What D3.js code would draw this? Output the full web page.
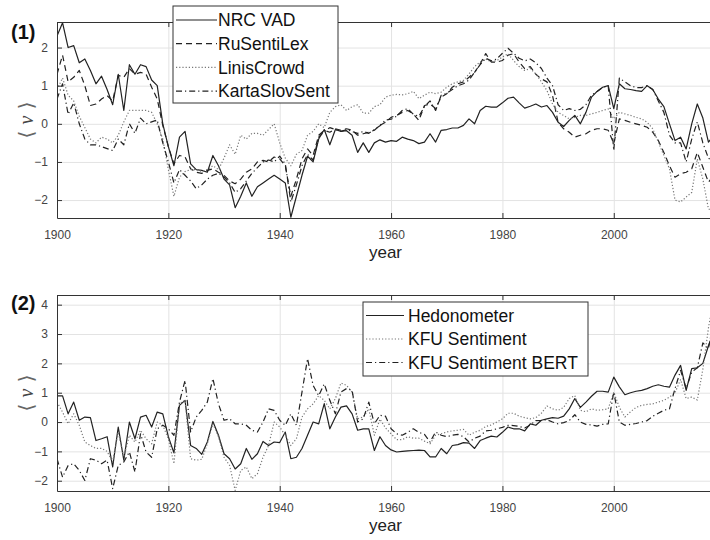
<!DOCTYPE html>
<html>
<head>
<meta charset="utf-8">
<script src="https://cdn.jsdelivr.net/npm/d3@7"></script>
<style>
  body { margin: 0; background: #fff; }
  svg { font-family: "Liberation Sans", Arial, sans-serif; }
</style>
</head>
<body>
<svg id="drawing_region"></svg>
<script>
// years 1900..2018
const years = d3.range(1900, 2019);

const nrcVad = [
  2.3, 2.65, 2.0, 2.05, 1.6, 1.7, 1.4, 1.05, 1.25, 0.9,
  0.5, 1.3, 0.35, 1.55, 1.3, 1.55, 1.5, 1.15, 1.0, 0.0,
  -0.6, -1.1, -0.35, -0.2, -1.05, -1.2, -1.22, -1.27, -0.83, -1.1,
  -1.45, -1.6, -2.2, -1.9, -1.55, -1.9, -1.65, -1.55, -1.45, -1.35,
  -1.45, -1.55, -2.45, -1.9, -1.35, -0.85, -1.0, -0.4, -0.15, -0.55,
  -0.15, -0.2, -0.18, -0.3, -0.75, -0.5, -0.75, -0.5, -0.42, -0.48,
  -0.44, -0.46, -0.35, -0.4, -0.44, -0.52, -0.48, -0.26, -0.48, -0.17,
  -0.15, -0.11, -0.11, -0.04, 0.13, 0.0, 0.35, 0.46, 0.44, 0.44,
  0.55, 0.67, 0.7, 0.55, 0.41, 0.46, 0.52, 0.44, 0.48, 0.3,
  0.04, -0.07, 0.09, 0.22, 0.0, 0.3, 0.7, 0.85, 0.96, 1.0,
  0.4, 1.05, 0.92, 0.9, 0.87, 0.85, 1.0, 0.9, 0.65, 0.45,
  0.0, -0.44, -0.35, -0.66, 0.0, 0.52, 0.15, -0.48, -0.3
];
const ruSentiLex = [
  1.3, 1.8, 1.1, 1.22, 1.4, 1.0, 0.48, 0.52, 0.65, 0.74,
  0.6, 1.27, 1.22, 1.45, 1.3, 1.35, 1.3, 0.96, 0.65, -0.04,
  -0.6, -1.05, -0.83, -0.87, -1.18, -1.27, -1.3, -1.22, -1.18, -1.27,
  -1.35, -1.5, -1.57, -1.45, -1.27, -1.18, -1.0, -0.96, -1.0, -0.87,
  -0.92, -1.1, -1.9, -1.45, -0.92, -0.66, -0.83, -0.3, -0.17, -0.22,
  -0.13, -0.17, -0.13, -0.17, -0.3, -0.26, -0.22, -0.17, -0.04, 0.04,
  0.17, 0.22, 0.3, 0.35, 0.26, 0.09, 0.48, 0.52, 0.4, 0.7,
  0.79, 0.96, 1.05, 1.1, 1.22, 1.35, 1.57, 1.84, 1.62, 1.62,
  1.66, 1.8, 1.84, 1.62, 1.45, 1.5, 1.3, 1.18, 1.1, 0.74,
  0.04, -0.13, -0.22, -0.35, -0.3, -0.26, -0.17, -0.13, -0.13, -0.17,
  -0.52, 0.13, 0.09, 0.04, 0.0, -0.04, -0.09, -0.22, -0.44, -0.75,
  -1.1, -1.4, -1.31, -1.27, -1.18, -0.75, -1.14, -1.53, -1.35
];
const linisCrowd = [
  0.9, 1.2, 0.75, 0.6, 0.2, -0.1, -0.4, -0.5, -0.35, -0.4,
  -0.5, -0.3, 0.05, 0.35, 0.35, 0.35, 0.35, 0.3, 0.0, -0.4,
  -1.2, -1.9, -1.4, -1.25, -1.2, -1.2, -1.25, -1.2, -1.1, -1.2,
  -0.9, -0.55, -0.8, -0.3, -0.4, -0.25, -0.25, -0.3, -0.15, 0.0,
  -0.5, -0.9, -1.1, -0.8, -0.7, -0.3, -0.2, 0.0, -0.1, 0.3,
  0.45, 0.5, 0.35, 0.45, 0.5, 0.28, 0.28, 0.45, 0.5, 0.7,
  0.75, 0.77, 0.76, 0.79, 0.85, 0.66, 0.75, 0.83, 0.79, 0.83,
  0.96, 1.05, 1.1, 1.14, 1.31, 1.5, 1.62, 1.7, 1.62, 1.66,
  1.75, 1.84, 1.66, 1.5, 1.4, 1.45, 1.31, 1.1, 0.87, 0.52,
  0.3, 0.22, 0.13, 0.17, 0.22, 0.22, 0.26, 0.3, 0.35, 0.39,
  0.13, 0.3, 0.26, 0.22, 0.17, 0.13, 0.04, -0.13, -0.48, -0.83,
  -1.18, -2.0, -2.05, -1.92, -1.8, -0.92, -1.45, -2.23, -2.3
];
const kartaSlovSent = [
  0.65, 1.05, 0.25, 0.55, 0.0, -0.4, -0.55, -0.55, -0.6, -0.65,
  -0.7, -0.4, -0.55, 0.0, -0.25, 0.15, 0.0, 0.05, 0.1, -0.5,
  -1.0, -1.55, -1.2, -1.35, -1.5, -1.7, -1.6, -1.45, -1.35, -1.3,
  -1.4, -1.55, -1.8, -1.7, -1.5, -1.3, -1.15, -1.0, -0.95, -1.0,
  -0.85, -1.05, -2.05, -1.6, -1.1, -0.8, -0.95, -0.35, -0.2, -0.1,
  -0.15, -0.2, -0.15, -0.2, -0.25, -0.2, -0.25, -0.15, -0.05, 0.1,
  0.12, 0.2, 0.35, 0.4, 0.25, 0.2, 0.45, 0.6, 0.35, 0.75,
  0.8, 0.9, 1.0, 1.05, 1.15, 1.35, 1.55, 1.72, 1.65, 1.7,
  1.85, 1.98, 1.85, 1.72, 1.65, 1.7, 1.6, 1.45, 1.2, 1.0,
  0.5, 0.35, 0.4, 0.35, 0.38, 0.5, 0.75, 0.85, 0.95, 1.0,
  -0.7, 1.2, 1.1, 1.0, 0.95, 0.95, 1.0, 0.9, 0.6, 0.3,
  -0.3, -0.5, -0.5, -1.0, -0.4, 0.05, -0.5, -0.9, -1.0
];

const hedonometer = [
  0.89, 0.89, 0.28, 0.68, 0.06, 0.17, 0.15, -0.63, -0.57, -0.5,
  -1.53, -0.17, -1.3, 0.0, -0.57, 0.17, 0.23, -0.17, 0.34, 0.28,
  -0.5, -1.05, 0.57, 0.74, -0.8, -0.9, -1.1, -0.68, 0.02, -0.45,
  -1.08, -1.25, -1.6, -1.42, -0.9, -1.27, -1.08, -0.66, -0.8, -0.68,
  -0.7, -0.34, -1.25, -1.2, -0.9, -0.45, 0.0, -0.06, 0.63, -0.23,
  0.17, 0.51, 0.55, 0.28, -0.28, -0.23, -0.23, -0.97, -0.5, -0.8,
  -0.95, -1.02, -1.0, -0.98, -0.97, -0.96, -0.97, -1.19, -1.19, -0.9,
  -1.08, -0.8, -0.77, -0.7, -0.72, -0.9, -0.63, -0.55, -0.48, -0.51,
  -0.35, -0.17, -0.23, -0.23, -0.3, -0.06, -0.11, 0.06, 0.11, 0.15,
  0.13, 0.2, 0.45, 0.8, 0.5, 0.68, 0.88, 1.05, 1.05, 1.02,
  1.53, 1.2, 0.93, 1.0, 1.05, 1.08, 1.14, 1.22, 1.27, 1.22,
  1.19, 1.6, 1.93, 1.08, 1.82, 1.85, 2.0, 2.6, 3.1
];
const kfuSentiment = [
  0.68, 0.34, -0.06, 0.28, -0.11, -0.68, -0.8, -0.9, -0.9, -1.0,
  -1.36, -0.34, -1.2, -0.45, -0.68, -0.28, -0.57, -0.74, 0.0, -0.11,
  -0.57, -1.42, 0.62, 0.74, -1.25, -1.3, -1.27, -0.74, -0.06, -0.5,
  -1.2, -1.48, -2.33, -1.65, -1.53, -1.93, -1.76, -1.2, -0.8, 0.0,
  -0.17, -0.45, -0.8, -0.57, 0.17, 0.45, 0.62, 0.9, 0.74, 0.45,
  0.8, 1.33, 1.25, 1.02, 0.11, 0.17, 0.45, -0.45, 0.1, -0.2,
  -0.4, -0.6, -0.6, -0.5, -0.55, -0.55, -0.65, -0.74, -0.45, -0.4,
  -0.34, -0.3, -0.28, -0.25, -0.45, -0.35, -0.28, -0.15, -0.1, 0.0,
  0.11, 0.3, 0.3, 0.2, 0.15, 0.11, 0.15, 0.3, 0.55, 0.45,
  0.4, 0.5, 0.8, 0.9, 0.4, 0.35, 0.45, 0.4, 0.42, 0.45,
  1.02, 0.5, 0.17, 0.35, 0.5, 0.57, 0.6, 0.62, 0.68, 0.74,
  0.85, 1.0, 1.45, 0.8, 0.85, 0.75, 1.8, 3.2, 4.3
];
const kfuSentimentBert = [
  -1.25, -1.88, -1.48, -1.42, -1.65, -1.99, -1.25, -1.3, -1.42, -1.3,
  -2.27, -1.48, -1.36, -1.02, -1.7, -0.4, -1.02, -1.2, -0.23, -0.11,
  -0.23, -0.45, 0.68, 1.42, -0.34, 0.17, 0.4, 0.68, 1.48, 0.62,
  0.06, 0.11, -0.06, -0.06, -0.11, -0.28, -0.34, 0.0, 0.45, 0.4,
  0.06, -0.11, 0.28, -0.11, 1.02, 2.16, 1.25, 0.9, 1.3, 0.74,
  0.28, 1.02, 1.14, 1.08, 0.0, 0.11, 0.68, -0.06, 0.23, 0.2,
  -0.23, -0.4, -0.45, -0.35, -0.23, -0.35, -0.42, -0.68, -0.34, -0.45,
  -0.5, -0.45, -0.42, -0.5, -0.68, -0.55, -0.48, -0.3, -0.28, -0.23,
  -0.18, -0.11, -0.12, -0.15, -0.2, -0.1, 0.05, 0.06, 0.08, 0.0,
  -0.06, -0.02, 0.05, 0.25, 0.0, -0.08, -0.1, -0.14, -0.08, -0.06,
  1.02, 0.0, -0.11, -0.08, -0.05, 0.0, 0.05, 0.2, 0.3, 0.4,
  0.45, 1.14, 1.76, 1.14, 1.7, 1.85, 2.7, 2.5, 3.5
];

const xTicks = [1900, 1920, 1940, 1960, 1980, 2000];
const yTicks1 = [-2, -1, 0, 1, 2];
const yTicks2 = [-2, -1, 0, 1, 2, 3, 4];

const styles = {
  solid:   { color: '#222', dash: null },
  dashed:  { color: '#222', dash: '6,4' },
  dotted:  { color: '#777', dash: '1.2,2' },
  dashdot: { color: '#222', dash: '6,3,1.2,3' }
};

const svg = d3.select('#drawing_region')
  .attr('width', 710)
  .attr('height', 540);

function drawPanel(cfg) {
  const w = cfg.right - cfg.left;
  const h = cfg.bottom - cfg.top;

  const xscale = d3.scaleLinear().domain([1900, 2018]).range([0, w]);
  const yscale = d3.scaleLinear().domain(cfg.ydomain).range([h, 0]);

  const g = svg.append('g')
    .attr('transform', `translate(${cfg.left}, ${cfg.top})`);

  // grid
  g.append('g')
    .attr('transform', `translate(0, ${h})`)
    .call(d3.axisBottom(xscale).tickValues(xTicks).tickSize(h).tickFormat(''))
    .call(a => a.select('.domain').remove())
    .call(a => a.selectAll('line').attr('stroke', '#e3e3e3').attr('transform', `translate(0, ${-h})`));
  g.append('g')
    .call(d3.axisLeft(yscale).tickValues(cfg.yticks).tickSize(-w).tickFormat(''))
    .call(a => a.select('.domain').remove())
    .call(a => a.selectAll('line').attr('stroke', '#e3e3e3'));

  // lines
  const clipId = 'clip' + cfg.name;
  g.append('clipPath').attr('id', clipId)
    .append('rect').attr('width', w).attr('height', h);

  const line = d3.line()
    .x((d, i) => xscale(years[i]))
    .y(d => yscale(d));

  cfg.series.forEach(s => {
    const st = styles[s.style];
    g.append('path')
      .datum(s.values)
      .attr('clip-path', `url(#${clipId})`)
      .attr('fill', 'none')
      .attr('stroke', st.color)
      .attr('stroke-width', 1.2)
      .attr('stroke-dasharray', st.dash)
      .attr('stroke-linejoin', 'round')
      .attr('d', line);
  });

  // axes (MATLAB-like, ticks inward)
  const xaxis = d3.axisBottom(xscale).tickValues(xTicks).tickFormat(d3.format('d'))
    .tickSizeInner(-5).tickSizeOuter(0).tickPadding(12);
  g.append('g')
    .attr('transform', `translate(0, ${h})`)
    .call(xaxis)
    .call(a => a.selectAll('text').attr('font-size', 12).attr('fill', '#444'))
    .call(a => a.selectAll('line, path').attr('stroke', '#333'));

  g.append('g')
    .call(d3.axisTop(xscale).tickValues(xTicks).tickFormat('').tickSizeInner(-5).tickSizeOuter(0))
    .call(a => a.selectAll('line, path').attr('stroke', '#333'));

  g.append('g')
    .call(d3.axisLeft(yscale).tickValues(cfg.yticks).tickFormat(d3.format('d'))
      .tickSizeInner(-5).tickSizeOuter(0).tickPadding(9))
    .call(a => a.selectAll('text').attr('font-size', 12).attr('fill', '#444'))
    .call(a => a.selectAll('line, path').attr('stroke', '#333'));

  // x label
  g.append('text')
    .attr('x', w / 2)
    .attr('y', h + 40)
    .attr('text-anchor', 'middle')
    .attr('font-size', 17)
    .attr('fill', '#222')
    .text('year');

  // y label  <nu>
  const yl = g.append('text')
    .attr('transform', `translate(-31, ${h / 2}) rotate(-90)`)
    .attr('text-anchor', 'middle')
    .attr('dy', '0.35em')
    .attr('font-family', '"DejaVu Sans", sans-serif')
    .attr('font-size', 20)
    .attr('fill', '#666');
  yl.append('tspan').text('\u27E8 ');
  yl.append('tspan').attr('font-style', 'italic').attr('font-family', '"Liberation Serif", serif')
    .attr('fill', '#444').text('\u03BD');
  yl.append('tspan').text(' \u27E9');

  // panel tag
  svg.append('text')
    .attr('x', 11)
    .attr('y', cfg.top + cfg.tagDy)
    .attr('font-size', 20)
    .attr('font-weight', 'bold')
    .attr('fill', '#111')
    .text(cfg.tag);

  // legend
  const lg = svg.append('g')
    .attr('transform', `translate(${cfg.legend.x}, ${cfg.legend.y})`);
  lg.append('rect')
    .attr('width', cfg.legend.w)
    .attr('height', cfg.legend.h)
    .attr('fill', '#fff')
    .attr('stroke', '#333')
    .attr('stroke-width', 1);
  cfg.series.forEach((s, i) => {
    const st = styles[s.style];
    const cy = cfg.legend.first + i * cfg.legend.step;
    lg.append('line')
      .attr('x1', cfg.legend.lx1).attr('x2', cfg.legend.lx2)
      .attr('y1', cy).attr('y2', cy)
      .attr('stroke', st.color)
      .attr('stroke-width', 1.2)
      .attr('stroke-dasharray', st.dash);
    lg.append('text')
      .attr('x', cfg.legend.tx)
      .attr('y', cy)
      .attr('dy', '0.35em')
      .attr('font-size', 17.5)
      .attr('fill', '#111')
      .text(s.name);
  });
}

drawPanel({
  name: 'p1', tag: '(1)', tagDy: 17,
  left: 57, right: 714, top: 22, bottom: 218,
  ydomain: [-2.47, 2.67], yticks: yTicks1,
  series: [
    { name: 'NRC VAD', values: nrcVad, style: 'solid' },
    { name: 'RuSentiLex', values: ruSentiLex, style: 'dashed' },
    { name: 'LinisCrowd', values: linisCrowd, style: 'dotted' },
    { name: 'KartaSlovSent', values: kartaSlovSent, style: 'dashdot' }
  ],
  legend: { x: 173, y: 6, w: 165, h: 97, first: 14, step: 23.7, lx1: 3, lx2: 44, tx: 45 }
});

drawPanel({
  name: 'p2', tag: '(2)', tagDy: 15,
  left: 57, right: 714, top: 295, bottom: 491,
  ydomain: [-2.35, 4.33], yticks: yTicks2,
  series: [
    { name: 'Hedonometer', values: hedonometer, style: 'solid' },
    { name: 'KFU Sentiment', values: kfuSentiment, style: 'dotted' },
    { name: 'KFU Sentiment BERT', values: kfuSentimentBert, style: 'dashdot' }
  ],
  legend: { x: 363, y: 302, w: 225, h: 74, first: 13.5, step: 23.5, lx1: 3, lx2: 41, tx: 45 }
});
</script>
</body>
</html>
